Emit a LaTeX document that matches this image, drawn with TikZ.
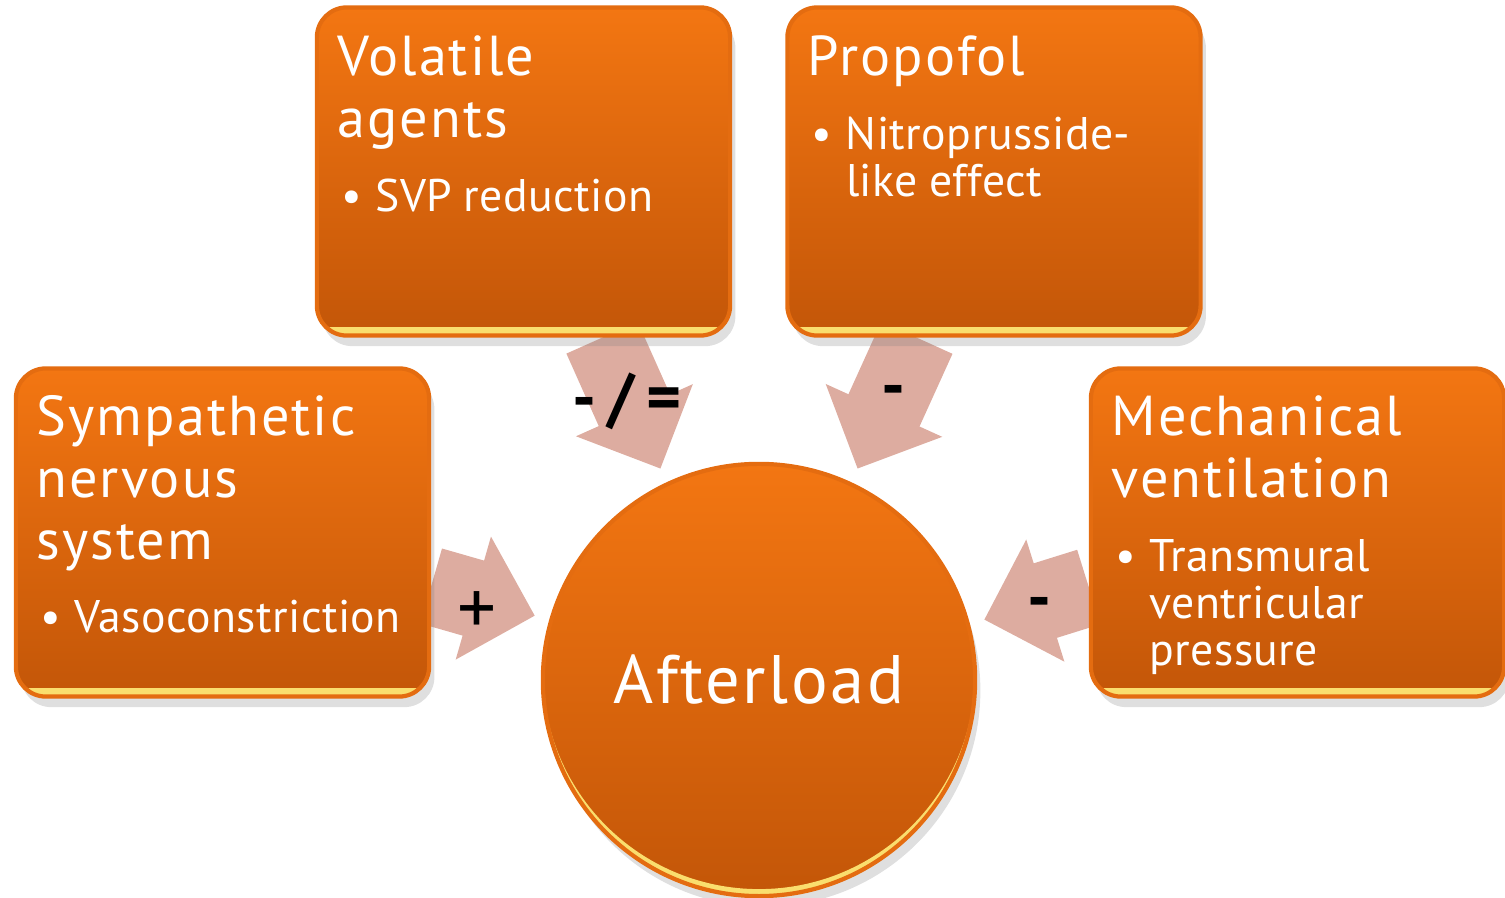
\documentclass[tikz,border=0pt]{standalone}
\usepackage{fontspec}
\setmainfont{PT Sans}
\newfontfamily\hdfont{PT Sans}[LetterSpace=3.7]
\newfontfamily\bulfont{PT Sans}[LetterSpace=1.0]
\newfontfamily\hubfont{PT Sans}[LetterSpace=3.8]
\usepackage{tikz}
\usetikzlibrary{positioning, shadows, arrows.meta, backgrounds}

\definecolor{boxtop}{RGB}{243,118,18}
\definecolor{boxbot}{RGB}{195,86,8}
\definecolor{boxedge}{RGB}{228,108,16}
\definecolor{rimgold}{RGB}{250,222,110}
\definecolor{flowpink}{RGB}{221,172,160}

\setlength{\parindent}{0pt}
\newcommand{\hdtext}[1]{{\hdfont\fontsize{16}{17.6}\selectfont #1\par}}
\newcommand{\bultext}[1]{{\vspace{7.6pt}\bulfont\fontsize{13}{13.4}\selectfont
  \hangindent=0.38cm\hangafter=1\noindent\makebox[0.38cm][l]{\hspace{0.04cm}\textbullet}#1\par}}

\tikzset{
  stage/.style={rectangle, rounded corners=0.3cm, minimum width=4.13cm,
    minimum height=3.28cm, inner sep=0pt, top color=boxtop, bottom color=boxbot,
    draw=boxedge, line width=1.2pt,
    drop shadow={opacity=0.25, shadow xshift=1.5pt, shadow yshift=-3pt},
    path picture={\draw[rimgold, line width=5pt] (path picture bounding box.south west)
      -- (path picture bounding box.south east);}},
  stagetext/.style={anchor=base west, text width=3.9cm, inner sep=0pt,
    text=white, align=left},
  hub/.style={circle, minimum size=4.32cm, inner sep=0pt, outer sep=0.17cm,
    top color=boxtop, bottom color=boxbot, draw=boxedge, line width=1.2pt,
    drop shadow={opacity=0.25, shadow xshift=1.5pt, shadow yshift=-3pt},
    path picture={\fill[rimgold, even odd rule] (path picture bounding box.center)
      circle (2.16cm) ([yshift=0.07cm]path picture bounding box.center) circle (2.16cm);},
    text=white, font=\hubfont\fontsize{19.5}{22}\selectfont},
  flow/.style={draw=flowpink, line width=0.78cm,
    -{Triangle[length=0.64cm, width=1.24cm]}},
  sign/.style={font=\bfseries\fontsize{19}{19}\selectfont, text=black, inner sep=0pt,
    yshift=-0.07cm}
}

\begin{document}
\begin{tikzpicture}[x=0.01cm, y=-0.01cm]
  \useasboundingbox (0,0) rectangle (1505,898);

  % the four causes and the hub
  \node[stage] (vol) at (523.5,171.5) {};
  \node[stage] (pro) at (994,171.5) {};
  \node[stage] (sym) at (222.5,532.5) {};
  \node[stage] (mech) at (1297.5,532.5) {};
  \node[hub] (load) at (759,680) {Afterload};

  \node[stagetext] (volt) at ([shift={(22,70)}]vol.north west)
    {\hdtext{Volatile\\agents}\bultext{SVP reduction}};
  \node[stagetext] (prot) at ([shift={(22,70)}]pro.north west)
    {\hdtext{Propofol}\bultext{Nitroprusside-\newline like effect}};
  \node[stagetext] (symt) at ([shift={(22,69)}]sym.north west)
    {\hdtext{Sympathetic\\nervous\\system}\bultext{Vasoconstriction}};
  \node[stagetext] (mecht) at ([shift={(22,69)}]mech.north west)
    {\hdtext{Mechanical\\ventilation}\bultext{Transmural\newline ventricular\newline pressure}};

  % effects on afterload, drawn under the boxes
  \begin{scope}[on background layer]
    \draw[flow] ([xshift=0.785cm]vol.south) -- (load.115)
      node[sign, pos=0.43] (volsign) {-\,/\,=};
    \draw[flow] ([xshift=-0.77cm]pro.south) -- (load.65)
      node[sign, pos=0.4] (prosign) {-};
    \draw[flow] ([yshift=-0.535cm]sym.east) -- (load.164.5)
      node[sign, pos=0.44, yshift=-0.07cm, font=\fontsize{22}{22}\selectfont] (symsign) {+};
    \draw[flow] ([yshift=-0.545cm]mech.west) -- (load.15.5)
      node[sign, pos=0.47] (mechsign) {-};
  \end{scope}
\end{tikzpicture}
\end{document}
